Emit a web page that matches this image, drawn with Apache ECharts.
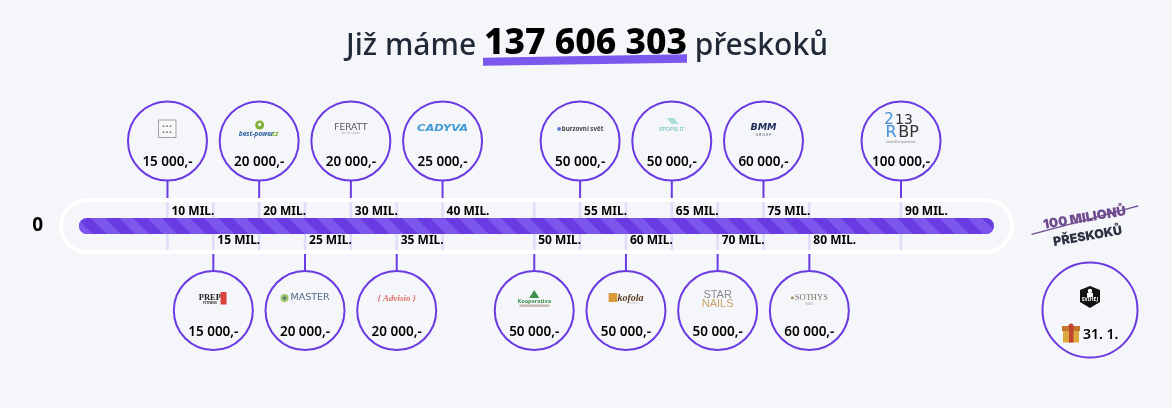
<!DOCTYPE html>
<html>
<head>
<meta charset="utf-8">
<style>
  html, body { margin: 0; padding: 0; background: #f5f6f9; }
  #chart { width: 1172px; height: 408px; }
</style>
<script src="https://cdn.jsdelivr.net/npm/echarts@6/dist/echarts.min.js"></script>
</head>
<body>
<div id="chart"></div>
<script>
// milestones in millions, the prize that goes with each one and whose logo sits in the circle
const milestones = [10, 15, 20, 25, 30, 35, 40, 50, 55, 60, 65, 70, 75, 80, 90]
const prizes = ['15 000,-', '15 000,-', '20 000,-', '20 000,-', '20 000,-', '20 000,-', '25 000,-', '50 000,-', '50 000,-', '50 000,-', '50 000,-', '50 000,-', '60 000,-', '60 000,-', '100 000,-']
const sponsors = ['box', 'prep', 'bestpower', 'master', 'feratt', 'advisio', 'cadyva', 'kooperativa', 'burzovni', 'kofola', 'epopis', 'starnails', 'bmm', 'sothys', 'rbp']
const startLabel = ['0']
const axisMin = 0.35
const axisMax = 100.14
const progress = [100.14]
const titleBefore = 'Již máme '
const titleCount = '137 606 303'
const titleAfter = ' přeskoků'
const goalTop = '100 MILIONŮ'
const goalBottom = 'PŘESKOKŮ'
const bonusDate = '31. 1.'

const PURPLE = '#6a3ae2'
const SANS = '"Noto Sans", sans-serif'

const text = (x, y, str, font, fill, extra) => ({
  type: 'text',
  style: { x, y, text: str, font, fill, align: 'center', verticalAlign: 'middle', ...extra }
})
// same as text, stretched sideways around its own centre
const wide = (x, y, str, font, fill, scaleX) => ({
  type: 'text',
  x,
  y,
  scaleX,
  style: { text: str, font, fill, align: 'center', verticalAlign: 'middle' }
})
const rect = (x, y, width, height, fill, extra) => ({
  type: 'rect',
  shape: { x, y, width, height },
  style: { fill, ...extra }
})
const poly = (points, fill) => ({ type: 'polygon', shape: { points }, style: { fill } })
const dot = (cx, cy, r, fill, extra) => ({ type: 'circle', shape: { cx, cy, r }, style: { fill, ...extra } })

// rough stand-ins for the sponsor logos, drawn relative to the circle centre
const logos = {
  box: (x, y) => {
    const marks = []
    for (const dy of [-15.5, -9.5]) {
      for (const dx of [-4, -0.5, 3]) marks.push(rect(x + dx - 1, y + dy, 2, 1.4, '#777'))
    }
    return [rect(x - 9, y - 21, 17.5, 17.5, '#f8f8f8', { stroke: '#a0a0a0', lineWidth: 1 }), ...marks]
  },
  bestpower: (x, y) => [
    dot(x + 0.5, y - 16, 4.5, '#7fb02f'),
    dot(x + 0.5, y - 16.5, 1.7, '#f5f6f9'),
    text(x - 3, y - 7, 'best-power', 'italic 700 6.6px ' + SANS, '#2a5f9e'),
    text(x + 15, y - 7, '.cz', 'italic 700 6.6px ' + SANS, '#7fb02f')
  ],
  feratt: (x, y) => [
    text(x, y - 13.7, 'FERATT', '400 9px "DejaVu Sans"', '#555'),
    text(x, y - 7.7, 'ferratt studio', '3px ' + SANS, '#aaa')
  ],
  cadyva: (x, y) => [
    wide(x, y - 12, 'CADYVA', 'italic 700 9px "DejaVu Sans"', '#3f9ad6', 1.27)
  ],
  prep: (x, y) => [
    text(x - 3.5, y - 13, 'PREP', '700 8.5px "Liberation Serif"', '#222'),
    text(x - 3.5, y - 8, 'FITNESS', '700 3.5px ' + SANS, '#333'),
    rect(x + 7.2, y - 18.5, 6, 12.5, '#d8433e')
  ],
  master: (x, y) => [
    dot(x - 20.5, y - 12.5, 4, '#9cc46a'),
    dot(x - 20.5, y - 12.5, 1.6, '#4f6a80'),
    wide(x + 5, y - 12.5, 'MASTER', '400 8.5px "DejaVu Sans"', '#4f6a80', 1.12)
  ],
  advisio: (x, y) => [
    text(x, y - 12, '{ Advisio }', 'italic 700 9px "Liberation Serif"', '#e0706a')
  ],
  kooperativa: (x, y) => [
    poly([[x, y - 20.5], [x + 5, y - 12.5], [x - 5, y - 12.5]], '#3f8f4f'),
    text(x, y - 9.5, 'Kooperativa', '700 5.5px ' + SANS, '#3f8f4f'),
    rect(x - 15, y - 6, 30, 2.4, '#c9b9b0')
  ],
  burzovni: (x, y) => [
    dot(x - 21, y - 12, 2, '#5b7fd0'),
    text(x + 2.5, y - 12, 'burzovní svět', '700 6.2px ' + SANS, '#444')
  ],
  kofola: (x, y) => [
    rect(x - 17.3, y - 17.5, 8.5, 9, '#d99a3c', { borderRadius: 2 }),
    text(x + 4.5, y - 12.5, 'kofola', 'italic 700 10px "Liberation Serif"', '#5b3a1e'),
    text(x + 6, y - 7.5, 'výrobky', '3px ' + SANS, '#b9b9b9')
  ],
  epopis: (x, y) => [
    poly([[x - 5, y - 23], [x + 2, y - 23], [x + 7, y - 17], [x, y - 17]], '#a8dcd8'),
    text(x, y - 11.5, 'EPOPIS IT', '5.5px ' + SANS, '#5cb8b4')
  ],
  starnails: (x, y) => [
    text(x, y - 15.5, 'STAR', '400 11px "Liberation Sans"', '#8a8a8a'),
    text(x, y - 7, 'NAILS', '400 11px "Liberation Sans"', '#c9a46a')
  ],
  bmm: (x, y) => [
    text(x, y - 13.5, 'BMM', 'italic 700 9.5px "DejaVu Sans"', '#1e2a5a'),
    text(x, y - 6, 'G R O U P', '3.5px ' + SANS, '#445')
  ],
  sothys: (x, y) => [
    text(x + 2, y - 12.8, 'SOTHYS', '400 8.5px "Liberation Serif"', '#7d7468'),
    dot(x - 17, y - 12.8, 1.5, '#a88e62'),
    text(x, y - 6.5, 'PARIS', '3px ' + SANS, '#aaa')
  ],
  rbp: (x, y) => [
    text(x - 12, y - 20.5, '2', '400 15px "DejaVu Sans"', '#3f8fd8'),
    text(x + 3, y - 20.5, '13', '400 14px "DejaVu Sans"', '#333'),
    text(x - 10, y - 8, 'R', '400 16px "DejaVu Sans"', '#3f8fd8'),
    text(x + 7.5, y - 8, 'BP', '400 16px "DejaVu Sans"', '#333'),
    text(x, y + 1, 'investiční společnost', '3px ' + SANS, '#777')
  ]
}

const CENTER_OFFSET = 85
const renderTick = (params, api) => {
  const [x, y] = api.coord([api.value(0), 0])
  const up = params.dataIndex % 2 === 0
  const line = (y1, y2, stroke, lineWidth) => ({
    type: 'line',
    shape: { x1: x, y1, x2: x, y2 },
    style: { stroke, lineWidth }
  })
  return {
    type: 'group',
    children: [
      line(y - 24, y + 24, '#dfdcfb', 2.5),
      up ? line(y - 46, y - 28, PURPLE, 2) : line(y + 28, y + 44.5, PURPLE, 2)
    ]
  }
}

const renderBadge = (params, api) => {
  const i = params.dataIndex
  const [x, y] = api.coord([api.value(0), 0])
  const up = i % 2 === 0
  const cy = up ? y - CENTER_OFFSET : y + CENTER_OFFSET - 0.5
  return {
    type: 'group',
    children: [
      { type: 'circle', shape: { cx: x, cy, r: 39.5 }, style: { fill: '#f5f6f9', stroke: PURPLE, lineWidth: 2 } },
      ...logos[sponsors[i]](x, cy),
      text(x, cy + 21.5, prizes[i], '600 13.5px ' + SANS, '#000'),
      text(x + 4, up ? y - 14.5 : y + 15, milestones[i] + ' MIL.', '700 12px ' + SANS, '#000', { align: 'left' })
    ]
  }
}

const chart = echarts.init(document.getElementById('chart'))
chart.setOption({
  animation: false,
  backgroundColor: '#f5f6f9',
  title: {
    text: `{a|${titleBefore}}{b|${titleCount}}{a|${titleAfter}}`,
    left: 582,
    top: 17,
    textAlign: 'center',
    textStyle: {
      rich: {
        a: { fontFamily: SANS, fontSize: 30, fontWeight: 500, color: '#1f2937', lineHeight: 44, padding: [4, 0, 0, 0] },
        b: { fontFamily: SANS, fontSize: 35.5, fontWeight: 800, color: '#000', lineHeight: 44 }
      }
    }
  },
  grid: { left: 79, right: 178, top: 218, height: 16 },
  xAxis: { type: 'value', min: axisMin, max: axisMax, show: false },
  yAxis: {
    type: 'category',
    data: startLabel,
    axisLine: { show: false },
    axisTick: { show: false },
    axisLabel: { margin: 36, fontFamily: SANS, fontSize: 19, fontWeight: 700, color: '#000' }
  },
  graphic: [
    // capsule around the bar
    { type: 'rect', z: -1, shape: { x: 61, y: 200, width: 951, height: 52, r: 26 }, style: { fill: '#f5f6f9', stroke: '#fff', lineWidth: 4 } },
    // underline of the counter
    { type: 'polygon', z: 100, shape: { points: [[483, 57.7], [687, 54.3], [687, 62.7], [483, 65.7]] }, style: { fill: '#7c57ee' } },
    // goal at the end of the bar
    {
      type: 'group', x: 1086, y: 226, rotation: 0.17, z: 100,
      children: [
        { type: 'text', x: 0, y: -8, style: { text: goalTop, font: '900 13px Inter', fill: '#6f4a8e', align: 'center', verticalAlign: 'middle' } },
        { type: 'line', shape: { x1: -55, y1: -1, x2: 55, y2: -11 }, style: { stroke: '#6f4a8e', lineWidth: 1.2 } },
        { type: 'text', x: 0, y: 10.5, style: { text: goalBottom, font: '900 12.5px Inter', fill: '#2d3342', align: 'center', verticalAlign: 'middle' } }
      ]
    },
    // bonus circle with a shield and a gift
    { type: 'circle', shape: { cx: 1090, cy: 310, r: 47.5 }, style: { fill: '#f5f6f9', stroke: PURPLE, lineWidth: 2 } },
    { type: 'polygon', shape: { points: [[1090, 286], [1100, 290], [1100, 302], [1090, 308], [1080, 302], [1080, 290]] }, style: { fill: '#111' } },
    { type: 'circle', shape: { cx: 1090, cy: 291, r: 2.2 }, style: { fill: '#fff' } },
    { type: 'rect', shape: { x: 1087, y: 293, width: 6, height: 4 }, style: { fill: '#fff' } },
    { type: 'text', style: { x: 1090, y: 300, text: 'SVIHEJ', font: '700 5px ' + SANS, fill: '#fff', align: 'center', verticalAlign: 'middle' } },
    { type: 'rect', shape: { x: 1063, y: 329, width: 16, height: 13.5 }, style: { fill: '#dda83e' } },
    { type: 'rect', shape: { x: 1062, y: 326, width: 18, height: 5 }, style: { fill: '#c4742c' } },
    { type: 'rect', shape: { x: 1069, y: 326, width: 4.5, height: 16.5 }, style: { fill: '#c0452f' } },
    { type: 'circle', shape: { cx: 1071, cy: 326, r: 2.5 }, style: { fill: '#c0452f' } },
    { type: 'text', style: { x: 1083, y: 335, text: bonusDate, font: '600 14px ' + SANS, fill: '#000', align: 'left', verticalAlign: 'middle' } }
  ],
  series: [
    {
      type: 'custom',
      z: 1,
      renderItem: renderTick,
      data: milestones.map(v => [v]),
      encode: { x: 0 }
    },
    {
      type: 'bar',
      z: 2,
      data: progress,
      barWidth: 16,
      silent: true,
      itemStyle: {
        color: PURPLE,
        borderRadius: 8,
        decal: {
          symbol: 'rect',
          symbolSize: 1,
          color: '#7c57ee',
          dashArrayX: [1, 0],
          dashArrayY: [10, 10],
          rotation: Math.PI / 4
        }
      }
    },
    {
      type: 'custom',
      z: 3,
      renderItem: renderBadge,
      data: milestones.map(v => [v]),
      encode: { x: 0 }
    }
  ]
})
</script>
</body>
</html>
